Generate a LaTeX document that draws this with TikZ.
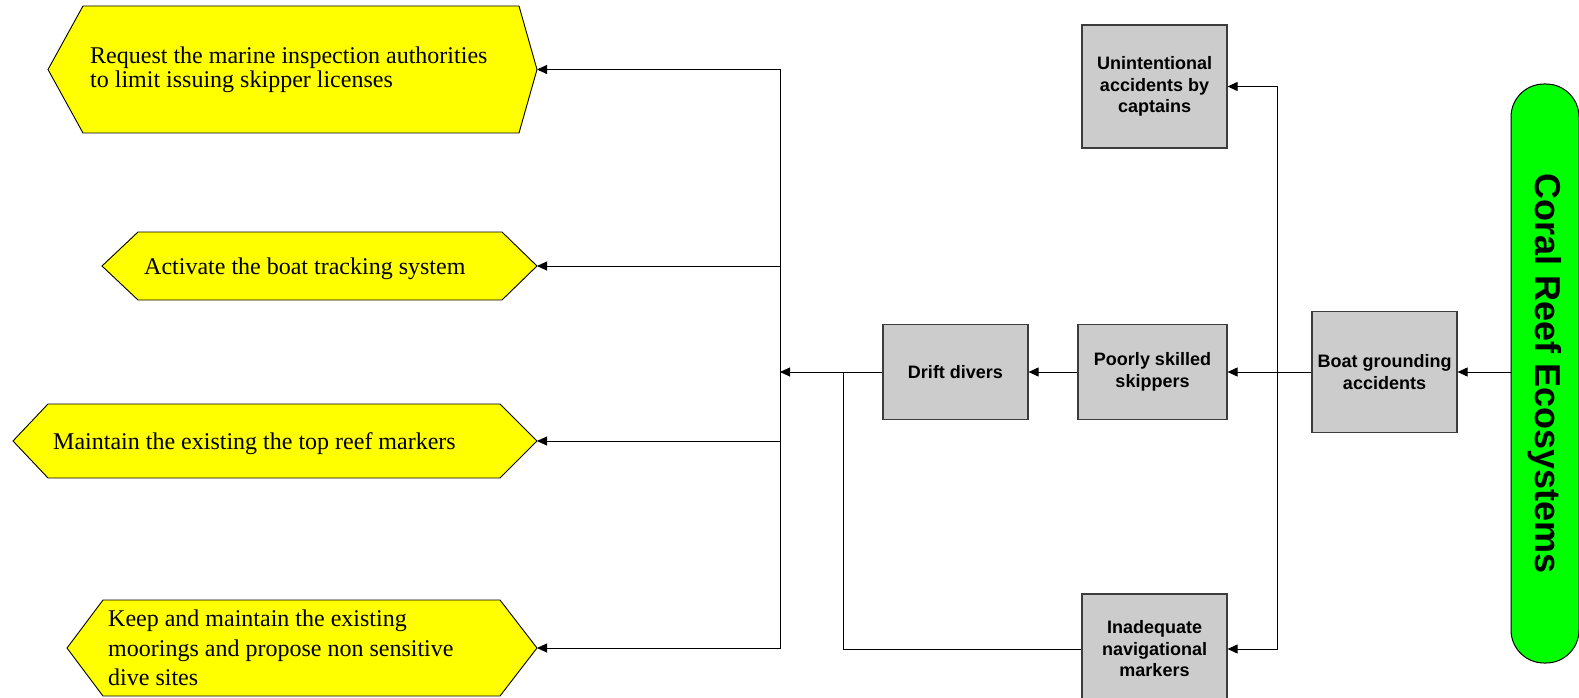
\documentclass[tikz,border=0pt]{standalone}
\usepackage{fontspec}
\setmainfont{Liberation Serif}
\setsansfont{Liberation Sans}
\usetikzlibrary{arrows.meta}
\definecolor{actionfill}{RGB}{255,255,0}
\definecolor{targetfill}{RGB}{0,255,0}
\definecolor{causefill}{RGB}{204,204,204}
\definecolor{causeedge}{RGB}{60,60,60}
\begin{document}
\begin{tikzpicture}[x=1pt,y=-1pt,
  hexbox/.style={draw=black, fill=actionfill, line width=0.9pt, line join=miter},
  hextext/.style={inner sep=0pt, align=left, text=black, font=\fontsize{24}{24}\selectfont},
  cause/.style={draw=causeedge, fill=causefill, line width=1.2pt, inner sep=0pt,
                align=center, font=\sffamily\bfseries\fontsize{18}{21.5}\selectfont},
  arr/.style={-{Triangle[length=10pt,width=9pt]}, line width=0.9pt, draw=black},
  link/.style={line width=0.9pt, draw=black}]
\useasboundingbox (0,0) rectangle (1579,698);

% management actions (yellow hexagons)
\draw[hexbox] (48,69.5) -- (83,6) -- (519,6) -- (537,69.5) -- (519,133) -- (83,133) -- cycle;
\coordinate (h1) at (537,69.5);
\node[hextext, anchor=west] (t1) at (90,69.5)
  {Request the marine inspection authorities\\to limit issuing skipper licenses};

\draw[hexbox] (102,266) -- (138,232) -- (502,232) -- (537,266) -- (502,300) -- (138,300) -- cycle;
\coordinate (h2) at (537,266);
\node[hextext, anchor=base west] (t2) at (144,274) {Activate the boat tracking system};

\draw[hexbox] (13,441) -- (48,404) -- (500,404) -- (537,441) -- (500,478) -- (48,478) -- cycle;
\coordinate (h3) at (537,441);
\node[hextext, anchor=base west] (t3) at (53,449) {Maintain the existing the top reef markers};

\draw[hexbox] (67,648) -- (103,600) -- (500,600) -- (537,648) -- (500,696) -- (103,696) -- cycle;
\coordinate (h4) at (537,648);
\node[hextext, anchor=west, font=\fontsize{24}{29.5}\selectfont] (t4) at (108,648)
  {Keep and maintain the existing\\moorings and propose non sensitive\\dive sites};

% threats and causes (grey boxes)
\node[cause, minimum width=145, minimum height=123] (unint) at (1154.5,86.5)
  {Unintentional\\accidents by\\captains};
\node[cause, minimum width=145, minimum height=95] (drift) at (955.5,372) {Drift divers};
\node[cause, minimum width=149, minimum height=95] (poor) at (1152.5,372) {Poorly skilled\\skippers};
\node[cause, minimum width=145, minimum height=121] (boat) at (1384.5,372) {Boat grounding\\accidents};
\node[cause, minimum width=145, minimum height=110] (inad) at (1154.5,649)
  {Inadequate\\navigational\\markers};

% target
\node[draw=black, fill=targetfill, line width=1pt, rotate=-90, rounded corners=33pt,
      minimum width=579, minimum height=68, inner sep=0pt,
      font=\sffamily\bfseries\fontsize{36}{36}\selectfont] (reef) at (1545,373.5)
  {Coral Reef Ecosystems};

% junction points
\coordinate (jl) at (780,372);
\coordinate (jm) at (843,372);
\coordinate (jr) at (1277,372);

% connectors
\draw[arr] (reef.south |- boat.east) -- (boat.east);
\draw[arr] (boat.west) -- (poor.east);
\draw[arr] (jr) |- (unint.east);
\draw[arr] (jr) |- (inad.east);
\draw[arr] (poor.west) -- (drift.east);
\draw[arr] (drift.west) -- (jl);
\draw[link] (inad.west) -| (jm);
\draw[arr] (jl) |- (h1);
\draw[arr] (jl) |- (h2);
\draw[arr] (jl) |- (h3);
\draw[arr] (jl) |- (h4);
\end{tikzpicture}
\end{document}
